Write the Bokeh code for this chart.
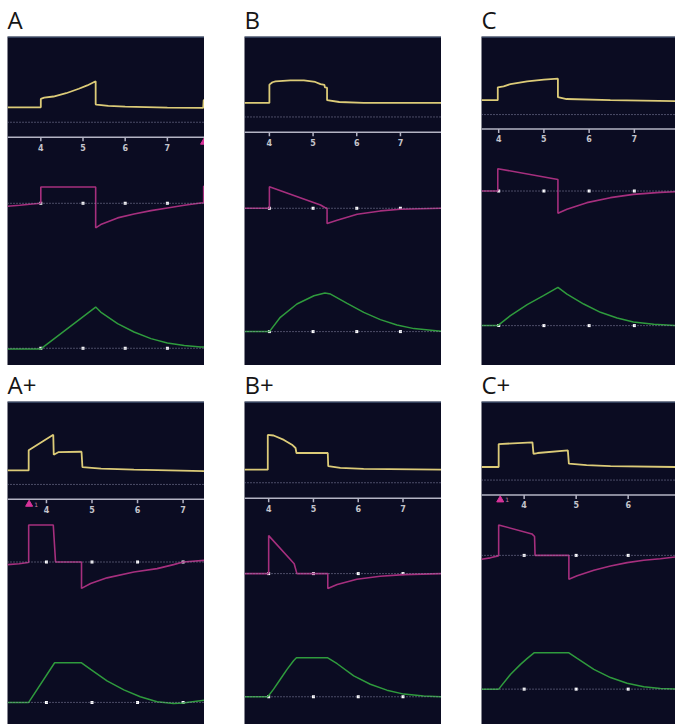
from bokeh.plotting import figure
from bokeh.models import Range1d, Span
from bokeh.layouts import row, column
from bokeh.core.properties import value
from bokeh.embed import file_html
from bokeh.resources import INLINE

# ---------------- data (time in s, pressure cmH2O, flow L/min, volume mL) ----
PANEL_NAMES = ["A", "B", "C", "A+", "B+", "C+"]
TICKS = [4, 5, 6, 7]
TICK_LABELS = ["4", "5", "6", "7"]

A_time_range = [3.21, 7.88]
A_P_t = [3.21, 4.0, 4.0, 4.08, 4.3, 4.6, 4.9, 5.1, 5.3, 5.3, 5.32, 5.6, 6.0, 7.0, 7.85, 7.86, 7.88]
A_P = [5.0, 5.0, 7.8, 8.2, 8.6, 9.7, 11.2, 12.3, 13.7, 6.0, 5.9, 5.5, 5.2, 4.9, 4.8, 7.3, 7.5]
A_F_t = [3.21, 3.5, 3.8, 4.0, 4.0, 5.3, 5.3, 5.42, 5.82, 6.21, 6.61, 7.0, 7.4, 7.79, 7.86, 7.86, 7.88]
A_F = [-6, -4, -1.5, 0, 32.7, 32.7, -49.3, -42.7, -29.3, -21.3, -14.7, -9.3, -4, 0.7, 1, 34, 34]
A_V_t = [3.21, 4.0, 5.3, 5.42, 5.82, 6.21, 6.61, 7.0, 7.4, 7.79, 7.88]
A_V = [-8, -8, 496, 436, 296, 196, 116, 64, 32, 16, 16]
A_triggers = [7.87]
A_trigger_text = [""]

B_time_range = [3.43, 7.94]
B_P_t = [3.43, 4.0, 4.0, 4.07, 4.14, 4.48, 4.79, 5.05, 5.17, 5.26, 5.27, 5.32, 5.32, 5.6, 6.16, 7.94]
B_P = [4.7, 4.7, 10.8, 11.6, 11.9, 12.2, 12.2, 11.7, 11.0, 10.7, 9.9, 9.8, 5.6, 5.0, 4.7, 4.7]
B_F_t = [3.43, 4.0, 4.0, 5.17, 5.27, 5.32, 5.32, 5.55, 6.01, 6.54, 7.0, 7.94]
B_F = [0, 0, 43.3, 6.7, 1.5, 0, -30.7, -24, -12, -5.3, -2, 0]
B_V_t = [3.43, 4.0, 4.25, 4.63, 5.02, 5.27, 5.40, 5.78, 6.16, 6.54, 6.92, 7.31, 7.94]
B_V = [0, 0, 172, 332, 432, 464, 452, 340, 232, 144, 80, 36, 4]
B_triggers = []
B_trigger_text = []

C_time_range = [3.62, 7.91]
C_P_t = [3.62, 3.98, 3.98, 4.11, 4.26, 4.63, 5.0, 5.31, 5.31, 5.5, 6.47, 7.91]
C_P = [4.8, 4.8, 9.1, 9.4, 10.2, 11.1, 11.7, 12.0, 5.8, 5.2, 4.8, 4.5]
C_F_t = [3.62, 3.98, 3.98, 5.31, 5.31, 5.51, 5.95, 6.47, 6.98, 7.57, 7.91]
C_F = [0, 0, 44.7, 23.3, -44.7, -36.7, -23.3, -13.3, -6.7, -2.7, -1.3]
C_V_t = [3.62, 3.98, 4.26, 4.63, 4.99, 5.31, 5.51, 5.88, 6.25, 6.62, 6.98, 7.43, 7.91]
C_V = [0, 0, 120, 252, 360, 460, 380, 260, 160, 92, 44, 16, 0]
C_triggers = []
C_trigger_text = []

Ap_time_range = [3.145, 7.47]
Ap_P_t = [3.145, 3.61, 3.61, 4.15, 4.16, 4.27, 4.75, 4.77, 4.79, 5.2, 5.92, 7.47]
Ap_P = [4.7, 4.7, 11.5, 16.7, 10.0, 10.9, 11.0, 11.0, 5.8, 5.3, 5.0, 4.5]
Ap_F_t = [3.145, 3.4, 3.6, 3.61, 3.61, 4.15, 4.2, 4.77, 4.77, 4.97, 5.33, 5.92, 6.43, 6.79, 7.0, 7.47]
Ap_F = [-5.3, -3.5, -1, 0, 74.7, 74.7, 0, 0, -53.3, -43.3, -32, -20, -13.3, -5.3, 0, 3.3]
Ap_V_t = [3.145, 3.61, 4.18, 4.77, 4.97, 5.33, 5.70, 6.06, 6.43, 6.79, 7.0, 7.47]
Ap_V = [0, 0, 480, 480, 400, 260, 152, 68, 8, -12, -8, 28]
Ap_triggers = [3.62]
Ap_trigger_text = ["1"]

Bp_time_range = [3.46, 7.86]
Bp_P_t = [3.46, 3.98, 3.98, 4.11, 4.34, 4.52, 4.60, 4.62, 5.32, 5.33, 5.6, 6.12, 7.86]
Bp_P = [4.4, 4.4, 16.1, 15.9, 14.4, 12.8, 11.7, 10.0, 10.0, 5.6, 5.0, 4.7, 4.4]
Bp_F_t = [3.46, 4.0, 4.0, 4.57, 4.63, 5.32, 5.32, 5.53, 5.97, 6.49, 7.02, 7.86]
Bp_F = [0, 0, 76.7, 20, 0, 0, -30, -22, -11.3, -5.3, -2, 0]
Bp_V_t = [3.46, 3.98, 4.11, 4.26, 4.41, 4.56, 4.62, 5.32, 5.53, 5.90, 6.27, 6.64, 7.02, 7.46, 7.86]
Bp_V = [0, 0, 92, 212, 332, 440, 472, 472, 400, 252, 152, 80, 32, 8, 0]
Bp_triggers = []
Bp_trigger_text = []

Cp_time_range = [3.18, 6.91]
Cp_P_t = [3.18, 3.51, 3.51, 4.16, 4.18, 4.26, 4.84, 4.86, 5.2, 5.66, 6.91]
Cp_P = [4.4, 4.4, 12.1, 12.7, 8.8, 9.1, 10.0, 5.5, 5.0, 4.7, 4.4]
Cp_F_t = [3.18, 3.35, 3.5, 3.51, 3.51, 4.15, 4.2, 4.21, 4.86, 4.86, 5.02, 5.34, 5.66, 5.98, 6.30, 6.62, 6.91]
Cp_F = [-8, -5, -1, 0, 61.3, 43.3, 38, 0, 0, -48, -41.3, -30, -21.3, -14.7, -10, -6.7, -3.3]
Cp_V_t = [3.18, 3.51, 3.74, 3.93, 4.06, 4.19, 4.86, 5.02, 5.34, 5.66, 5.98, 6.30, 6.62, 6.91]
Cp_V = [0, 0, 180, 300, 372, 440, 440, 372, 240, 140, 72, 28, 8, 0]
Cp_triggers = [3.54]
Cp_trigger_text = ["1"]

# ---------------- styling / layout ------------------------------------------
BG = "#0b0c22"
YELLOW = "#dccb78"
MAGENTA = "#a62f7e"
GREEN = "#2f9b3d"
DOTTED = "#8c8cab"
AXIS = "#b4b4c4"
TICKTXT = "#c4c4cc"
PINK = "#d8339a"

SP, SF, SV = 3.0, 0.5, 1.0 / 12.0   # px per unit

# per panel: pressure zero, time axis, flow zero, volume zero (px from frame top)
LAYOUT = {
    "A":  dict(p0=86.0, ax=101.0, f0=167.3, v0=312.7),
    "B":  dict(p0=80.7, ax=96.0, f0=172.3, v0=296.0),
    "C":  dict(p0=78.3, ax=92.7, f0=155.0, v0=290.0),
    "A+": dict(p0=83.7, ax=98.7, f0=162.0, v0=303.7),
    "B+": dict(p0=82.0, ax=97.7, f0=173.7, v0=298.0),
    "C+": dict(p0=79.3, ax=94.3, f0=155.3, v0=290.3),
}

PANELS = {
    "A": (A_time_range, A_P_t, A_P, A_F_t, A_F, A_V_t, A_V, A_triggers, A_trigger_text),
    "B": (B_time_range, B_P_t, B_P, B_F_t, B_F, B_V_t, B_V, B_triggers, B_trigger_text),
    "C": (C_time_range, C_P_t, C_P, C_F_t, C_F, C_V_t, C_V, C_triggers, C_trigger_text),
    "A+": (Ap_time_range, Ap_P_t, Ap_P, Ap_F_t, Ap_F, Ap_V_t, Ap_V, Ap_triggers, Ap_trigger_text),
    "B+": (Bp_time_range, Bp_P_t, Bp_P, Bp_F_t, Bp_F, Bp_V_t, Bp_V, Bp_triggers, Bp_trigger_text),
    "C+": (Cp_time_range, Cp_P_t, Cp_P, Cp_F_t, Cp_F, Cp_V_t, Cp_V, Cp_triggers, Cp_trigger_text),
}

COLS = [(204, 7), (237, 40), (234, 40)]          # (figure width, left border)
ROWS = [(35, 330, 0), (33, 326, 0)]              # (top border, frame height, bottom border)


def make_panel(name, col, rw):
    tr, Pt, P, Ft, F, Vt, V, trig, trig_txt = PANELS[name]
    lay = LAYOUT[name]
    w, bl = COLS[col]
    bt, fh, bb = rw
    p0, f0, v0 = lay["p0"], lay["f0"], lay["v0"]
    p = figure(width=w, height=bt + fh + bb,
               x_range=Range1d(tr[0], tr[1]),
               y_range=Range1d(-(fh - p0) / SP, p0 / SP),
               x_axis_location=None, y_axis_location=None,
               output_backend="svg", toolbar_location=None,
               min_border_left=bl, min_border_right=0,
               min_border_top=bt, min_border_bottom=bb,
               title=name)
    p.extra_y_ranges = {
        "flow": Range1d(-(fh - f0) / SF, f0 / SF),
        "vol": Range1d(-(fh - v0) / SV, v0 / SV),
    }
    p.background_fill_color = BG
    p.border_fill_color = "white"
    p.outline_line_color = None
    p.grid.visible = False
    p.title.text_font = "Open Sans"
    p.title.text_font_size = "24px"
    p.title.text_font_style = "normal"
    p.title.text_color = "#151515"
    p.title.standoff = 1
    p.title.offset = 0

    # thin light edge along the top of the screen
    p.add_layout(Span(location=(p0 - 0.5) / SP, dimension="width",
                      line_color="#60789a", line_width=1))

    ticks = [t for t in TICKS if tr[0] < t < tr[1]]
    labels = [TICK_LABELS[TICKS.index(t)] for t in ticks]
    ax = -(lay["ax"] - p0) / SP

    # pressure zero (dotted) and time axis
    p.add_layout(Span(location=0, dimension="width", line_color=DOTTED,
                      line_dash="1 2", line_width=1))
    p.add_layout(Span(location=ax, dimension="width", line_color=AXIS,
                      line_width=1.5))
    p.segment(x0=ticks, x1=ticks, y0=[ax] * len(ticks),
              y1=[ax - 4 / SP] * len(ticks), line_color=AXIS, line_width=1.5)
    p.text(x=ticks, y=[ax - 10 / SP] * len(ticks), text=labels,
           text_font=value("DejaVu Sans"), text_font_size="8px",
           text_font_style="bold", text_color=TICKTXT,
           text_align="center", text_baseline="middle")
    if trig:
        p.scatter(x=trig, y=[ax - 5 / SP] * len(trig), marker="triangle",
                  size=7, fill_color=PINK, line_color=PINK)
        shown = [(t, s) for t, s in zip(trig, trig_txt) if s]
        if shown:
            p.text(x=[t for t, _ in shown], y=[ax - 5 / SP] * len(shown),
                   text=[s for _, s in shown], x_offset=5,
                   text_font=value("DejaVu Sans"), text_font_size="6px",
                   text_color="#c080a8", text_baseline="middle")

    # flow and volume zero lines with tick dots
    for rn in ("flow", "vol"):
        p.add_layout(Span(location=0, dimension="width", y_range_name=rn,
                          line_color=DOTTED, line_dash="1 2", line_width=1))
        p.scatter(x=ticks, y=[0] * len(ticks), y_range_name=rn, marker="square",
                  size=3, fill_color="white", line_color=None)

    # waveforms
    p.line(Pt, P, line_color=YELLOW, line_width=1.8)
    p.line(Ft, F, y_range_name="flow", line_color=MAGENTA, line_width=1.6)
    p.line(Vt, V, y_range_name="vol", line_color=GREEN, line_width=1.5)
    return p


rows = []
for r, names in enumerate([["A", "B", "C"], ["A+", "B+", "C+"]]):
    rows.append(row(*[make_panel(n, c, ROWS[r]) for c, n in enumerate(names)]))
layout = column(*rows)

open("out.html", "w").write(file_html(layout, INLINE))
